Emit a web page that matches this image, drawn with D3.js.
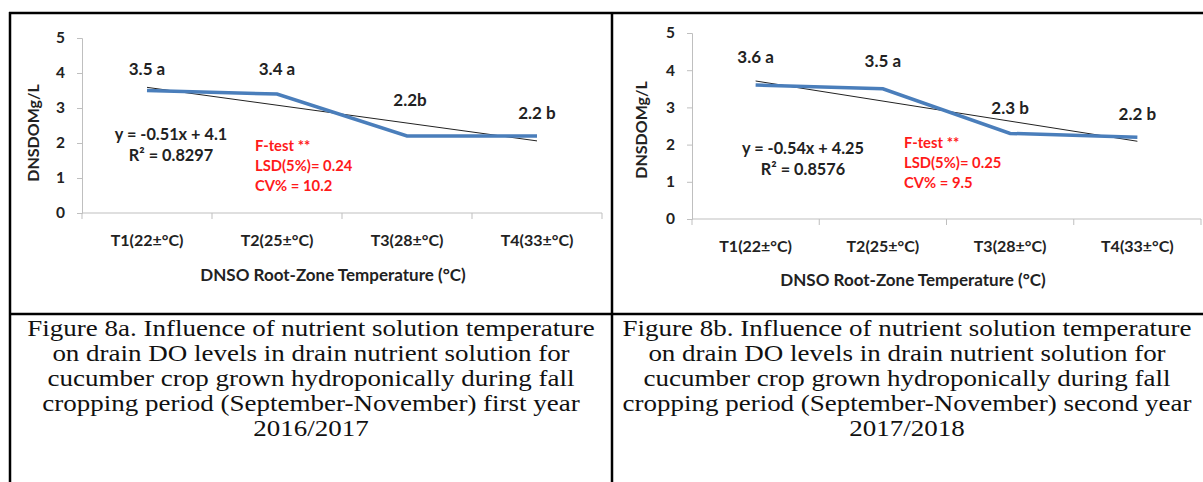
<!DOCTYPE html>
<html>
<head>
<meta charset="utf-8">
<script src="https://cdn.jsdelivr.net/npm/d3@7"></script>
<style>
  body { margin: 0; background: #fff; }
  svg { display: block; }
  .axis path, .axis line { stroke: #bfbfbf; }
  .axis text { font-family: Lato, sans-serif; font-weight: bold; fill: #222; }
  .lbl { font-family: Lato, sans-serif; font-weight: bold; fill: #222; }
  .red { font-family: Lato, sans-serif; font-weight: bold; font-size: 14.8px; fill: #ff1a1a; }
  .cap { font-family: "Liberation Serif", serif; font-size: 22.5px; fill: #111; }
</style>
</head>
<body>
<div id="chart"></div>
<script>
// Daten
const categories = ["T1(22±°C)", "T2(25±°C)", "T3(28±°C)", "T4(33±°C)"];
const yTicks = [0, 1, 2, 3, 4, 5];

const valuesA = [3.5, 3.4, 2.2, 2.2];
const labelsA = ["3.5 a", "3.4 a", "2.2b", "2.2 b"];
const trendA = { slope: -0.51, intercept: 4.1 };
const eqA = ["y = -0.51x + 4.1", "R² = 0.8297"];
const statsA = ["F-test **", "LSD(5%)= 0.24", "CV% = 10.2"];
const captionA = [
  "Figure 8a. Influence of nutrient solution temperature",
  "on drain DO levels in drain nutrient solution for",
  "cucumber crop grown hydroponically during fall",
  "cropping period (September-November) first year",
  "2016/2017"
];

const valuesB = [3.6, 3.5, 2.3, 2.2];
const labelsB = ["3.6 a", "3.5 a", "2.3 b", "2.2 b"];
const trendB = { slope: -0.54, intercept: 4.25 };
const eqB = ["y = -0.54x + 4.25", "R² = 0.8576"];
const statsB = ["F-test **", "LSD(5%)= 0.25", "CV% = 9.5"];
const captionB = [
  "Figure 8b. Influence of nutrient solution temperature",
  "on drain DO levels in drain nutrient solution for",
  "cucumber crop grown hydroponically during fall",
  "cropping period (September-November) second year",
  "2017/2018"
];

const W = 1203, H = 482;
const svg = d3.select("#chart").append("svg")
  .attr("width", W).attr("height", H);

// Tabellenrahmen
const frame = svg.append("g").attr("stroke", "#000").attr("stroke-width", 2.5);
frame.append("line").attr("x1", 9).attr("x2", W).attr("y1", 13).attr("y2", 13);
frame.append("line").attr("x1", 9).attr("x2", W).attr("y1", 314).attr("y2", 314);
frame.append("line").attr("x1", 10).attr("x2", 10).attr("y1", 12).attr("y2", H);
frame.append("line").attr("x1", 612).attr("x2", 612).attr("y1", 12).attr("y2", H);

function drawChart(cfg) {
  const x = d3.scaleBand().domain(categories).range([cfg.x0, cfg.x1]);
  const y = d3.scaleLinear().domain([0, 5]).range([cfg.y0, cfg.y5]);
  const g = svg.append("g");

  // Achsen
  g.append("g").attr("class", "axis")
    .attr("transform", `translate(${cfg.x0},0)`)
    .call(d3.axisLeft(y).tickValues(yTicks).tickSize(5).tickPadding(12).tickFormat(d3.format("d")))
    .call(a => a.selectAll("text").attr("font-size", 15.5));

  const xa = g.append("g").attr("class", "axis")
    .attr("transform", `translate(0,${cfg.y0})`)
    .call(d3.axisBottom(x).tickSize(0).tickPadding(22))
    .call(a => a.selectAll("text").attr("font-size", 16));
  // Tickmarken an den Bandgrenzen
  const edges = categories.map(c => x(c)).concat([cfg.x1]);
  xa.selectAll(".edge").data(edges).enter().append("line")
    .attr("x1", d => d).attr("x2", d => d)
    .attr("y1", 0).attr("y2", 6)
    .attr("stroke", "#bfbfbf");
  xa.select(".domain").attr("d", `M${cfg.x0},0H${cfg.x1}`);

  const cx = i => x(categories[i]) + x.bandwidth() / 2;

  // Trendlinie
  g.append("line")
    .attr("x1", cx(0)).attr("y1", y(cfg.trend.slope * 1 + cfg.trend.intercept))
    .attr("x2", cx(3)).attr("y2", y(cfg.trend.slope * 4 + cfg.trend.intercept))
    .attr("stroke", "#222").attr("stroke-width", 1);

  // Datenlinie
  g.append("path")
    .datum(cfg.values)
    .attr("fill", "none")
    .attr("stroke", "#4a7ebb")
    .attr("stroke-width", 3.5)
    .attr("d", d3.line().x((d, i) => cx(i)).y(d => y(d)));

  // Datenbeschriftungen
  g.selectAll(".dl").data(cfg.values).enter().append("text")
    .attr("class", "lbl")
    .attr("font-size", 17)
    .attr("text-anchor", "middle")
    .attr("x", (d, i) => cx(i) + cfg.labelDx[i])
    .attr("y", (d, i) => y(d) - cfg.labelDy[i])
    .attr("dy", "0.35em")
    .text((d, i) => cfg.labels[i]);

  // Gleichung
  cfg.eq.forEach((t, i) => {
    g.append("text").attr("class", "lbl").attr("font-size", 16.3)
      .attr("text-anchor", "middle")
      .attr("x", cfg.eqX).attr("y", cfg.eqY + i * 21).attr("dy", "0.35em")
      .text(t);
  });

  // Statistik
  cfg.stats.forEach((t, i) => {
    g.append("text").attr("class", "red")
      .attr("x", cfg.statX).attr("y", cfg.statY + i * 20).attr("dy", "0.35em")
      .text(t);
  });

  // Achsentitel
  g.append("text").attr("class", "lbl").attr("font-size", 17)
    .attr("text-anchor", "middle")
    .attr("x", cfg.titleX).attr("y", cfg.titleY).attr("dy", "0.35em")
    .text("DNSO Root-Zone Temperature (°C)");

  g.append("text").attr("class", "lbl").attr("font-size", 16)
    .attr("text-anchor", "middle")
    .attr("transform", `translate(${cfg.ylabX},${cfg.ylabY}) rotate(-90)`)
    .attr("dy", "0.35em")
    .text("DNSDOMg/L");

  // Bildunterschrift (im Original leicht in die Breite gezogen)
  cfg.caption.forEach((t, i) => {
    svg.append("text").attr("class", "cap")
      .attr("text-anchor", "middle")
      .attr("transform", `translate(${cfg.capX},${328 + i * 25}) scale(1.2,1)`)
      .attr("dy", "0.35em")
      .text(t);
  });
}

drawChart({
  x0: 82, x1: 602, y0: 213, y5: 38,
  values: valuesA, labels: labelsA, trend: trendA, eq: eqA, stats: statsA, caption: captionA,
  labelDx: [0, 0, 3, 0], labelDy: [21, 25, 36, 23],
  eqX: 171, eqY: 134, statX: 255, statY: 146,
  titleX: 333, titleY: 275, ylabX: 33, ylabY: 133, capX: 311
});

drawChart({
  x0: 692, x1: 1201, y0: 219, y5: 33,
  values: valuesB, labels: labelsB, trend: trendB, eq: eqB, stats: statsB, caption: captionB,
  labelDx: [0, 0, 0, 0], labelDy: [28, 28, 25, 23],
  eqX: 803, eqY: 148, statX: 904, statY: 143,
  titleX: 913, titleY: 280, ylabX: 641, ylabY: 130, capX: 907
});
</script>
</body>
</html>
